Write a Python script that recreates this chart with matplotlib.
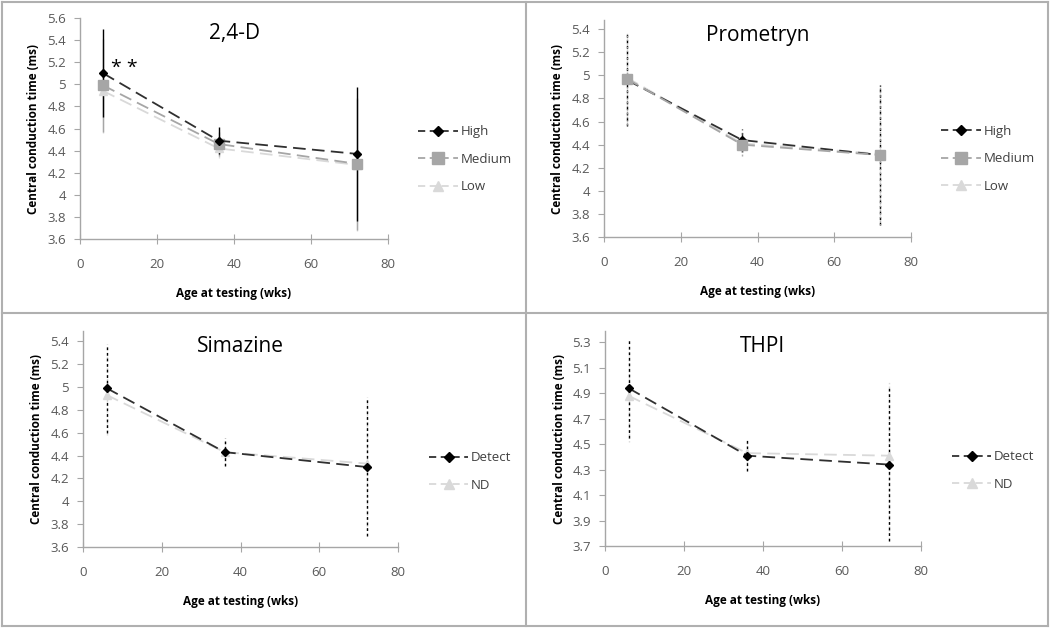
import matplotlib.pyplot as plt
from matplotlib.lines import Line2D

# x positions (age at testing, wks)
ages = [6, 36, 72]

# 2,4-D
d24_high = [5.10, 4.49, 4.37]
d24_high_err = [0.40, 0.12, 0.61]
d24_med = [4.99, 4.46, 4.28]
d24_med_err = [0.42, 0.11, 0.60]
d24_low = [4.94, 4.42, 4.27]
d24_low_err = [0.38, 0.09, 0.60]

# Prometryn
pro_high = [4.96, 4.44, 4.31]
pro_high_err = [0.40, 0.10, 0.61]
pro_med = [4.97, 4.40, 4.31]
pro_med_err = [0.40, 0.10, 0.61]
pro_low = [4.98, 4.41, 4.32]
pro_low_err = [0.39, 0.10, 0.60]

# Simazine
sim_det = [4.99, 4.43, 4.30]
sim_det_err = [0.39, 0.12, 0.60]
sim_nd = [4.93, 4.43, 4.33]
sim_nd_err = [0.35, 0.11, 0.58]

# THPI
thpi_det = [4.94, 4.41, 4.34]
thpi_det_err = [0.39, 0.12, 0.60]
thpi_nd = [4.88, 4.43, 4.41]
thpi_nd_err = [0.36, 0.10, 0.59]

titles = ['2,4-D', 'Prometryn', 'Simazine', 'THPI']
dose_labels = ['High', 'Medium', 'Low']
detect_labels = ['Detect', 'ND']

BLACK = '#000000'
MID = '#a6a6a6'
LIGHT = '#d9d9d9'
TICKC = '#595959'

plt.rcParams['font.family'] = ['Open Sans', 'DejaVu Sans']

fig = plt.figure(figsize=(10.5, 6.29), dpi=100)

# panel borders (pixel coords -> figure fraction)
W, H = 1050, 629
def hline(y, x0, x1):
    fig.add_artist(Line2D([x0 / W, x1 / W], [1 - y / H, 1 - y / H], color='#b0b0b0', lw=1.5))
def vline(x, y0, y1):
    fig.add_artist(Line2D([x / W, x / W], [1 - y0 / H, 1 - y1 / H], color='#b0b0b0', lw=1.5))
hline(2, 2, 1048)
hline(626, 2, 1048)
vline(2, 2, 626)
vline(1048, 2, 626)
vline(526, 2, 626)
hline(313, 2, 1048)

# axes positions in pixels: left, right, top, bottom
boxes = [
    (80, 388, 18, 239),
    (604, 911, 20, 237),
    (83, 398, 331, 547),
    (605, 921, 331, 546),
]
ylims = [(3.6, 5.6), (3.6, 5.48), (3.6, 5.49), (3.7, 5.39)]
yticks = [
    [3.6 + 0.2 * i for i in range(11)],
    [3.6 + 0.2 * i for i in range(10)],
    [3.6 + 0.2 * i for i in range(10)],
    [3.7 + 0.2 * i for i in range(9)],
]

axes = []
for (l, r, t, b) in boxes:
    ax = fig.add_axes([l / W, 1 - b / H, (r - l) / W, (b - t) / H])
    axes.append(ax)

style = {
    'High': (BLACK, 'D', 4.5, '#303030'),
    'Detect': (BLACK, 'D', 4.5, '#303030'),
    'Medium': (MID, 's', 7, MID),
    'Low': (LIGHT, '^', 6, LIGHT),
    'ND': (LIGHT, '^', 6, LIGHT),
}

def draw(ax, y, err, label, estyle):
    color, marker, ms, lcolor = style[label]
    c = ax.errorbar(ages, y, yerr=err, color=lcolor, marker=marker, ms=ms,
                    mfc=color, mec=color,
                    linestyle=(0, (7, 3.5)), lw=1.3, ecolor=color, elinewidth=1,
                    capsize=0)
    for lc in c[2]:
        lc.set_linestyle(estyle)

ax = axes[0]
draw(ax, d24_low, d24_low_err, 'Low', '-')
draw(ax, d24_med, d24_med_err, 'Medium', '-')
draw(ax, d24_high, d24_high_err, 'High', '-')
ax.text(11.5, 5.15, '* *', fontsize=14, ha='center', va='center')

ax = axes[1]
draw(ax, pro_low, pro_low_err, 'Low', ':')
draw(ax, pro_high, pro_high_err, 'High', (0, (2, 2)))
draw(ax, pro_med, pro_med_err, 'Medium', ':')

ax = axes[2]
draw(ax, sim_nd, sim_nd_err, 'ND', ':')
draw(ax, sim_det, sim_det_err, 'Detect', (0, (2, 2)))

ax = axes[3]
draw(ax, thpi_nd, thpi_nd_err, 'ND', ':')
draw(ax, thpi_det, thpi_det_err, 'Detect', (0, (2, 2)))

legend_sets = [dose_labels, dose_labels, detect_labels, detect_labels]
legend_y = [0.36, 0.36, 0.35, 0.35]
for i, ax in enumerate(axes):
    ax.set_xlim(0, 80)
    ax.set_ylim(*ylims[i])
    ax.set_xticks([0, 20, 40, 60, 80])
    ax.set_yticks(yticks[i])
    ax.set_yticklabels(['%g' % round(v, 1) for v in yticks[i]])
    for s in ['top', 'right']:
        ax.spines[s].set_visible(False)
    for s in ['left', 'bottom']:
        ax.spines[s].set_color('#a6a6a6')
        ax.spines[s].set_linewidth(1)
    ax.tick_params(axis='y', direction='out', length=4, color='#a6a6a6',
                   labelcolor=TICKC, labelsize=9.5, pad=6)
    ax.tick_params(axis='x', direction='inout', length=7, color='#a6a6a6',
                   labelcolor=TICKC, labelsize=9.5, pad=10)
    ax.set_xlabel('Age at testing (wks)', fontsize=8.5, fontweight='bold', labelpad=12)
    ax.set_ylabel('Central conduction time (ms)', fontsize=8.5, fontweight='bold', labelpad=5)
    ax.text(0.5, 0.93, titles[i], transform=ax.transAxes, ha='center',
            va='center', fontsize=15)

    handles = []
    for lab in legend_sets[i]:
        color, marker, ms, lcolor = style[lab]
        handles.append(Line2D([], [], color=lcolor, marker=marker, ms=ms + 1,
                              mfc=color, mec=color, lw=1.3,
                              linestyle=(0, (4, 2.5))))
    leg = ax.legend(handles, legend_sets[i],
                    loc='center left', bbox_to_anchor=(1.06, legend_y[i]),
                    frameon=False, fontsize=9.5, handlelength=3.0,
                    labelspacing=1.1, handletextpad=0.2)
    for t in leg.get_texts():
        t.set_color('#404040')

plt.savefig('out.png', dpi=100)
